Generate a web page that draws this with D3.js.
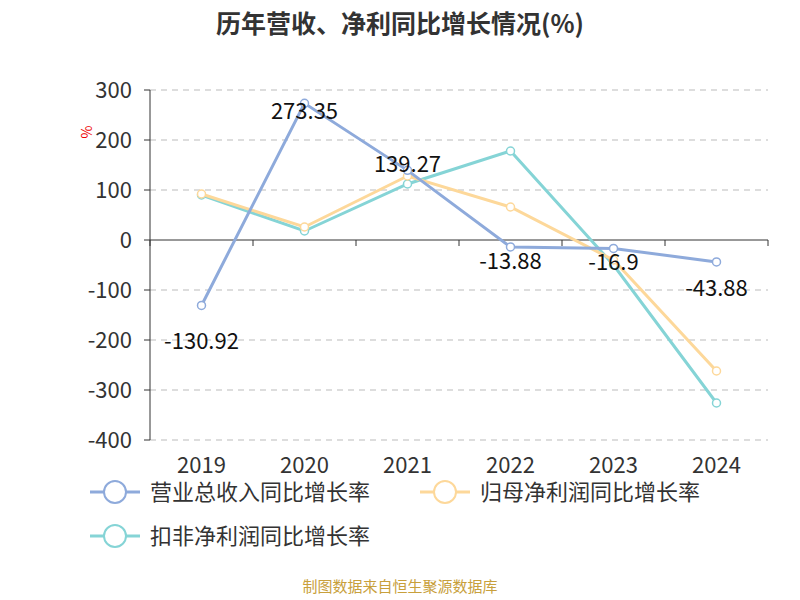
<!DOCTYPE html>
<html><head><meta charset="utf-8">
<script src="https://cdn.jsdelivr.net/npm/d3@7"></script>
<style>body{margin:0;background:#fff}</style></head>
<body><svg id="c" width="800" height="600"></svg>
<script>
const years=["2019","2020","2021","2022","2023","2024"];
const revenue=[-130.92,273.35,139.27,-13.88,-16.9,-43.88];
const netProfit=[92,26,128,66,-40,-262];
const deducted=[90,18,112,178,-50,-326];
const yTicks=[300,200,100,0,-100,-200,-300,-400];
const series=[
 {name:"营业总收入同比增长率",values:revenue,color:"#8eaadb"},
 {name:"归母净利润同比增长率",values:netProfit,color:"#fdd89a"},
 {name:"扣非净利润同比增长率",values:deducted,color:"#85d4d6"}];
const svg=d3.select("#c");
const font="'Noto Sans CJK SC','Noto Sans',sans-serif";
const x=d3.scaleBand().domain(years).range([150,768]);
const y=d3.scaleLinear().domain([-400,300]).range([440,90]);
svg.append("text").attr("x",400).attr("y",33).attr("text-anchor","middle").attr("font-family",font)
 .attr("font-size",25).attr("font-weight","bold").attr("fill","#333").text("历年营收、净利同比增长情况(%)");
yTicks.forEach(t=>{
 if(t!==0) svg.append("line").attr("x1",150).attr("x2",768).attr("y1",y(t)).attr("y2",y(t))
  .attr("stroke","#bbb").attr("stroke-dasharray","6,5");
 svg.append("text").attr("x",132).attr("y",y(t)).attr("dy","0.35em").attr("text-anchor","end")
  .attr("font-family",font).attr("font-size",22).attr("fill","#333").text(t);
 svg.append("line").attr("x1",144).attr("x2",150).attr("y1",y(t)).attr("y2",y(t)).attr("stroke","#333");
});
svg.append("line").attr("x1",150).attr("x2",150).attr("y1",90).attr("y2",440).attr("stroke","#333");
svg.append("line").attr("x1",150).attr("x2",768).attr("y1",y(0)).attr("y2",y(0)).attr("stroke","#333");
years.forEach((yr,i)=>{
 svg.append("line").attr("x1",x(yr)+x.bandwidth()).attr("x2",x(yr)+x.bandwidth()).attr("y1",y(0)).attr("y2",y(0)+6).attr("stroke","#333");
 svg.append("text").attr("x",x(yr)+x.bandwidth()/2).attr("y",473).attr("text-anchor","middle")
  .attr("font-family",font).attr("font-size",22).attr("fill","#333").text(yr);
});
svg.append("line").attr("x1",150).attr("x2",150).attr("y1",y(0)).attr("y2",y(0)+6).attr("stroke","#333");
svg.append("text").attr("transform","translate(92,132) rotate(-90)").attr("text-anchor","middle")
 .attr("font-family",font).attr("font-size",14).attr("fill","#e00").text("%");
const line=d3.line().x((d,i)=>x(years[i])+x.bandwidth()/2).y(d=>y(d));
series.slice().reverse().forEach(s=>{
 svg.append("path").attr("d",line(s.values)).attr("fill","none").attr("stroke",s.color).attr("stroke-width",3);
 s.values.forEach((v,i)=>svg.append("circle").attr("cx",x(years[i])+x.bandwidth()/2).attr("cy",y(v)).attr("r",4)
  .attr("fill","#fff").attr("stroke",s.color).attr("stroke-width",1.5));
});
const dys=[36,8,-6,14,14,26];
revenue.forEach((v,i)=>svg.append("text").attr("x",x(years[i])+x.bandwidth()/2).attr("y",y(v)+dys[i])
 .attr("dy","0.35em").attr("text-anchor","middle")
 .attr("font-family",font).attr("font-size",22).attr("fill","#111").text(v));
const leg=[[90,492],[420,492],[90,536]];
series.forEach((s,i)=>{
 const [lx,ly]=leg[i];
 svg.append("line").attr("x1",lx).attr("x2",lx+50).attr("y1",ly).attr("y2",ly).attr("stroke",s.color).attr("stroke-width",3);
 svg.append("circle").attr("cx",lx+25).attr("cy",ly).attr("r",11).attr("fill","#fff").attr("stroke",s.color).attr("stroke-width",2);
 svg.append("text").attr("x",lx+60).attr("y",ly).attr("dy","0.35em").attr("font-family",font).attr("font-size",22)
  .attr("fill","#333").text(s.name);
});
svg.append("text").attr("x",400).attr("y",592).attr("text-anchor","middle").attr("font-family",font)
 .attr("font-size",15).attr("fill","#c8a03c").text("制图数据来自恒生聚源数据库");
</script></body></html>
